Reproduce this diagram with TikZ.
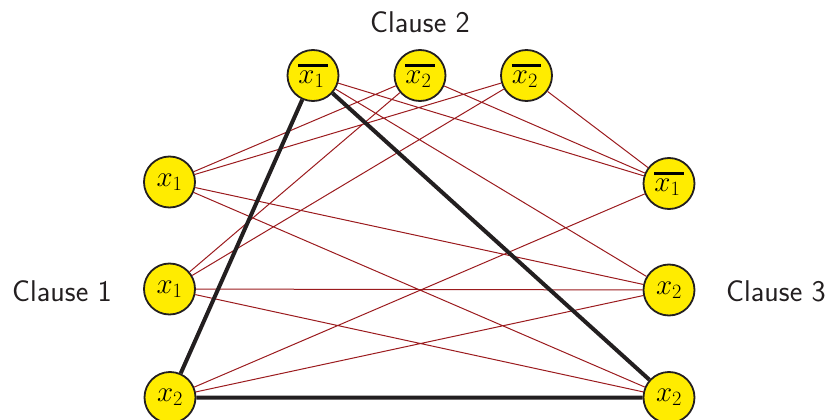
\documentclass[tikz,border=0pt]{standalone}
\usepackage{fix-cm}
\usepackage{fontspec}
\definecolor{nodeyellow}{RGB}{255,236,0}
\definecolor{edgered}{RGB}{155,27,30}
\definecolor{darkline}{RGB}{35,31,32}
\newcommand{\negbar}[1]{\mathord{\vbox{\hrule height 3pt\kern 4pt\hbox{$#1\mkern2mu$}}}}
\tikzset{
  lit/.style={circle,draw=darkline,line width=1.8pt,fill=nodeyellow,minimum size=51pt,inner sep=0pt,font=\fontsize{29}{34}\selectfont},
  thinedge/.style={draw=edgered,line width=1pt},
  thickedge/.style={draw=darkline,line width=4pt},
  clabel/.style={font=\sffamily\fontsize{30}{36}\selectfont,text=darkline}
}
\begin{document}
\begin{tikzpicture}[x=1pt,y=-1pt]
\useasboundingbox (0,0) rectangle (831,420);
\node[lit] (T1) at (313,75.5) {$\negbar{x_1}$};
\node[lit] (T2) at (420,75.5) {$\negbar{x_2}$};
\node[lit] (T3) at (526.5,75.5) {$\negbar{x_2}$};
\node[lit] (L1) at (169.5,182) {$x_1$};
\node[lit] (L2) at (169.5,289) {$x_1$};
\node[lit] (L3) at (170,397.5) {$x_2$};
\node[lit] (R1) at (669,183.5) {$\negbar{x_1}$};
\node[lit] (R2) at (669,290) {$x_2$};
\node[lit] (R3) at (669,397.5) {$x_2$};
\node[clabel] (C2) at (420,22) {Clause 2};
\node[clabel] (C1) at (62,291) {Clause 1};
\node[clabel] (C3) at (776,291) {Clause 3};
\path[thinedge] (L1) -- (T2) (L1) -- (T3) (L1) -- (R2) (L1) -- (R3)
  (L2) -- (T2) (L2) -- (T3) (L2) -- (R2) (L2) -- (R3)
  (L3) -- (R1) (L3) -- (R2)
  (T1) -- (R1) (T1) -- (R2)
  (T2) -- (R1) (T3) -- (R1);
\path[thickedge] (L3) -- (T1) (T1) -- (R3) (L3) -- (R3);
\end{tikzpicture}
\end{document}
